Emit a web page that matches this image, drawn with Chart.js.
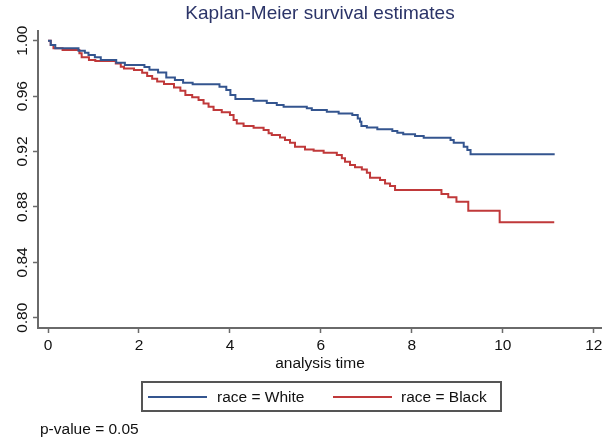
<!DOCTYPE html>
<html>
<head>
<meta charset="utf-8">
<script src="https://cdn.jsdelivr.net/npm/chart.js@4"></script>
<style>
  body { margin: 0; background: #fff; }
  #wrap { position: relative; width: 602px; height: 437px; font-family: "Liberation Sans", Arial, sans-serif; color: #111; }
  #legend { position: absolute; left: 141px; top: 381px; width: 361px; height: 31px; border: 2px solid #555; box-sizing: border-box; }
  .swatch { position: absolute; top: 13px; width: 59px; height: 0; border-top: 2px solid; }
  .lbl { position: absolute; top: 5px; font-size: 15.5px; line-height: 18px; white-space: nowrap; }
  #pval { position: absolute; left: 40px; top: 420px; font-size: 15.5px; line-height: 18px; }
</style>
</head>
<body>
<div id="wrap">
  <canvas id="km" width="602" height="437"></canvas>
  <div id="legend"></div>
  <div id="pval"></div>
</div>
<script>
// Kaplan-Meier steps: time of each drop and the survival after it
const whiteTimes = [0, 0.06, 0.16, 0.67, 0.81, 0.89, 1.03, 1.16, 1.50, 1.69, 2.12, 2.23, 2.42, 2.60, 2.79, 2.97,
  3.18, 3.77, 3.92, 4.01, 4.12, 4.52, 4.81, 5.03, 5.18, 5.69, 5.80, 6.13, 6.39, 6.69, 6.81, 6.86, 6.89,
  7.01, 7.24, 7.57, 7.68, 7.81, 8.07, 8.26, 8.85, 8.92, 9.14, 9.22, 9.29, 11.14];
const whiteSurv = [1.000, 0.9969, 0.9945, 0.9928, 0.9913, 0.9897, 0.9880, 0.9860, 0.9840, 0.9824, 0.9810, 0.9790,
  0.9770, 0.9735, 0.9716, 0.9697, 0.9685, 0.9668, 0.9644, 0.9608, 0.9580, 0.9567, 0.9550, 0.9535, 0.9524,
  0.9512, 0.9499, 0.9487, 0.9475, 0.9463, 0.9439, 0.9415, 0.9384, 0.9374, 0.9360, 0.9348, 0.9336, 0.9324,
  0.9312, 0.9300, 0.9283, 0.9264, 0.9235, 0.9211, 0.9180, 0.9180];

const blackTimes = [0, 0.06, 0.12, 0.32, 0.69, 0.74, 0.90, 1.04, 1.49, 1.60, 1.67, 1.89, 2.07, 2.18, 2.29, 2.40,
  2.55, 2.77, 2.91, 3.02, 3.17, 3.31, 3.42, 3.53, 3.64, 3.82, 4.00, 4.08, 4.15, 4.30, 4.52, 4.74, 4.85,
  4.92, 5.10, 5.21, 5.32, 5.43, 5.65, 5.84, 6.06, 6.35, 6.46, 6.53, 6.64, 6.75, 6.90, 7.01, 7.08, 7.30,
  7.41, 7.52, 7.63, 8.65, 8.80, 8.98, 9.24, 9.93, 11.13];
const blackSurv = [1.000, 0.9969, 0.9945, 0.9933, 0.9909, 0.9880, 0.9860, 0.9853, 0.9836, 0.9812, 0.9800, 0.9788,
  0.9769, 0.9745, 0.9726, 0.9706, 0.9687, 0.9663, 0.9639, 0.9608, 0.9591, 0.9572, 0.9547, 0.9523, 0.9500,
  0.9483, 0.9463, 0.9427, 0.9403, 0.9384, 0.9372, 0.9355, 0.9331, 0.9319, 0.9302, 0.9283, 0.9263, 0.9235,
  0.9215, 0.9206, 0.9191, 0.9175, 0.9151, 0.9127, 0.9103, 0.9086, 0.9071, 0.9047, 0.9011, 0.8994, 0.8970,
  0.8951, 0.8922, 0.8894, 0.8870, 0.8838, 0.8773, 0.8689, 0.8689];

const seriesNames = ['race = White', 'race = Black'];
const seriesColors = ['#34558f', '#c0393a'];
const xTicks = [0, 2, 4, 6, 8, 10, 12];
const yTicks = [0.80, 0.84, 0.88, 0.92, 0.96, 1.00];
const yTickLabels = ['0.80', '0.84', '0.88', '0.92', '0.96', '1.00'];
const titleText = 'Kaplan-Meier survival estimates';
const xTitle = 'analysis time';
const pValueText = 'p-value = 0.05';

Chart.defaults.font.family = '"Liberation Sans", Arial, sans-serif';
Chart.defaults.color = '#111';

const toPoints = (ts, ss) => ts.map((t, i) => ({ x: t, y: ss[i] }));
const axisGrey = '#6a6a6a';

new Chart(document.getElementById('km'), {
    type: 'line',
    data: {
        datasets: [
            { label: seriesNames[0], data: toPoints(whiteTimes, whiteSurv), borderColor: seriesColors[0] },
            { label: seriesNames[1], data: toPoints(blackTimes, blackSurv), borderColor: seriesColors[1] }
        ].map(d => Object.assign(d, { stepped: 'before', borderWidth: 2, pointRadius: 0, fill: false }))
    },
    options: {
        responsive: false,
        animation: false,
        layout: { padding: { top: 0, left: 0, right: 0, bottom: 59 } },
        plugins: {
            legend: { display: false },
            tooltip: { enabled: false },
            title: {
                display: true,
                text: titleText,
                fullSize: false,
                color: '#2b3468',
                font: { size: 19, weight: 'normal' },
                padding: { top: 2, bottom: 6.2 }
            }
        },
        scales: {
            x: {
                type: 'linear',
                min: -0.22,
                max: 12.18,
                afterBuildTicks: s => { s.ticks = xTicks.map(v => ({ value: v })); },
                afterFit: s => { s.height = 50; s.paddingLeft = 0; s.paddingRight = 0; },
                border: { color: axisGrey, width: 2 },
                grid: { drawOnChartArea: false, tickLength: 5, tickColor: axisGrey, tickWidth: 1.5 },
                ticks: { font: { size: 15.5 }, padding: 3 },
                title: { display: true, text: xTitle, font: { size: 15.5 }, padding: { top: 0, bottom: 5 } }
            },
            y: {
                min: 0.7926,
                max: 1.007,
                afterBuildTicks: s => { s.ticks = yTicks.map(v => ({ value: v })); },
                afterFit: s => { s.width = 38; s.paddingTop = 0; s.paddingBottom = 0; },
                border: { color: axisGrey, width: 2 },
                grid: { drawOnChartArea: false, tickLength: 5, tickColor: axisGrey, tickWidth: 1.5 },
                ticks: {
                    font: { size: 15.5 },
                    minRotation: 90,
                    maxRotation: 90,
                    crossAlign: 'center',
                    padding: -5,
                    callback: (v) => yTickLabels[yTicks.findIndex(t => Math.abs(t - v) < 1e-6)]
                }
            }
        }
    }
});

// legend box and p-value note
const legend = document.getElementById('legend');
const swatchLeft = [5, 190];
const labelLeft = [74, 258];
seriesNames.forEach((name, i) => {
    const sw = document.createElement('div');
    sw.className = 'swatch';
    sw.style.left = swatchLeft[i] + 'px';
    sw.style.borderTopColor = seriesColors[i];
    legend.appendChild(sw);
    const lb = document.createElement('div');
    lb.className = 'lbl';
    lb.style.left = labelLeft[i] + 'px';
    lb.textContent = name;
    legend.appendChild(lb);
});
document.getElementById('pval').textContent = pValueText;
</script>
</body>
</html>
